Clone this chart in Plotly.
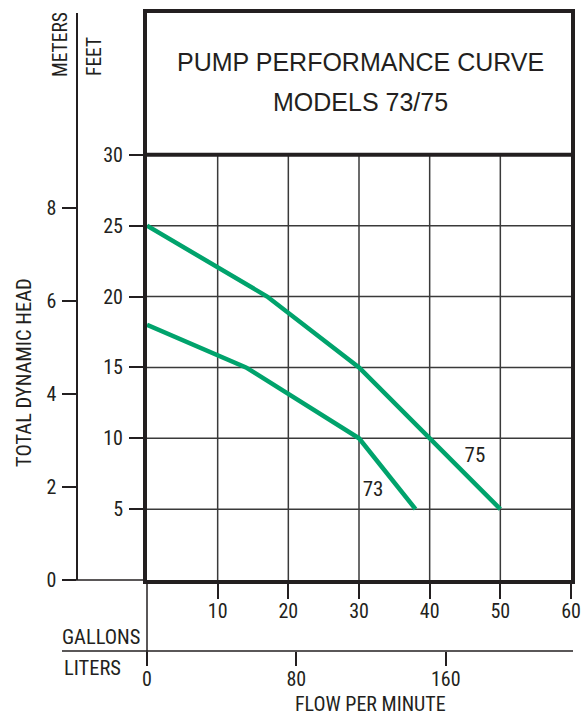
import plotly.graph_objects as go

W, H = 585, 715

NARROW = "Liberation Sans Narrow, Arial Narrow, Roboto Condensed, sans-serif"
WIDE = "Liberation Sans, Arial, Helvetica, sans-serif"
GREEN = "#00a36c"
INK = "#231f20"

# ---- data ----------------------------------------------------------------- #
model_73_gpm = [0, 14, 30, 38]
model_73_feet = [18, 15, 10, 5]
model_75_gpm = [0, 17, 30, 50]
model_75_feet = [25, 20, 15, 5]
curve_labels = ["73", "75"]
curve_label_gpm = [32.0, 46.4]
curve_label_feet = [6.3, 8.7]

gallon_ticks = [10, 20, 30, 40, 50, 60]
feet_ticks = [5, 10, 15, 20, 25, 30]
meter_ticks = [0, 2, 4, 6, 8]
liter_ticks = [0, 80, 160]

GPM_MAX = 60
FEET_CHART_TOP = 30   # top of the grid, title box sits above it
FEET_MAX = 40
M_PER_FT = 0.3048
L_PER_GAL = 3.785

# plot box in pixels (left, right, top, bottom)
PX_L, PX_R, PX_T, PX_B = 147, 571, 13, 580


def px(x):
    return x / W


def py(y):
    return 1 - y / H


fig = go.Figure()

# grid, only inside the chart part (below the title box)
gx, gy = [], []
for g in gallon_ticks[:-1]:
    gx += [g, g, None]
    gy += [0, FEET_CHART_TOP, None]
for f in feet_ticks[:-1]:
    gx += [0, GPM_MAX, None]
    gy += [f, f, None]
fig.add_trace(go.Scatter(x=gx, y=gy, mode="lines",
                         line=dict(color="#3a3a3a", width=1.5),
                         hoverinfo="skip", showlegend=False))

for xs, ys, name in ((model_73_gpm, model_73_feet, "73"),
                     (model_75_gpm, model_75_feet, "75")):
    fig.add_trace(go.Scatter(x=xs, y=ys, mode="lines", name=name,
                             line=dict(color=GREEN, width=4.5),
                             showlegend=False))

fig.add_trace(go.Scatter(x=curve_label_gpm, y=curve_label_feet, mode="text",
                         text=curve_labels, textposition="middle center",
                         textfont=dict(family=NARROW, size=21, color=INK),
                         hoverinfo="skip", showlegend=False))

# invisible traces so the secondary axes are drawn
fig.add_trace(go.Scatter(x=[0], y=[0], yaxis="y2", mode="markers",
                         marker=dict(opacity=0), hoverinfo="skip", showlegend=False))
fig.add_trace(go.Scatter(x=[0], y=[0], xaxis="x2", mode="markers",
                         marker=dict(opacity=0), hoverinfo="skip", showlegend=False))

tickfont = dict(family=NARROW, size=20, color=INK)

fig.update_layout(
    width=W, height=H,
    margin=dict(l=0, r=0, t=0, b=0, autoexpand=False),
    paper_bgcolor="white", plot_bgcolor="white",
    font=dict(family=NARROW, color=INK),
    xaxis=dict(
        domain=[px(PX_L), px(PX_R)], range=[0, GPM_MAX],
        tickvals=gallon_ticks, ticks="outside", ticklen=15, tickwidth=1.5,
        tickcolor=INK, tickfont=tickfont, showgrid=False, zeroline=False,
        showline=True, linewidth=4, linecolor=INK, mirror=True,
        anchor="y", automargin=False, ticklabelstandoff=-5,
        ticklabeloverflow="allow", fixedrange=True,
    ),
    yaxis=dict(
        domain=[py(PX_B), py(PX_T)], range=[0, FEET_MAX],
        tickvals=feet_ticks, ticks="outside", ticklen=14, tickwidth=1.5,
        tickcolor=INK, tickfont=tickfont, showgrid=False, zeroline=False,
        showline=True, linewidth=4, linecolor=INK, mirror=True,
        automargin=False, ticklabelstandoff=2, fixedrange=True,
    ),
    yaxis2=dict(
        overlaying="y", anchor="free", position=px(77), side="left",
        range=[0, FEET_MAX * M_PER_FT], tickvals=meter_ticks,
        ticks="outside", ticklen=14, tickwidth=1.5, tickcolor=INK,
        tickfont=tickfont, showline=True, linewidth=1.5, linecolor=INK,
        showgrid=False, zeroline=False, automargin=False,
        ticklabelstandoff=2, fixedrange=True,
    ),
    xaxis2=dict(
        overlaying="x", anchor="free", position=py(651), side="bottom",
        range=[0, GPM_MAX * L_PER_GAL], tickvals=liter_ticks,
        ticks="outside", ticklen=14, tickwidth=1.5, tickcolor=INK,
        tickfont=tickfont, showline=False, showgrid=False, zeroline=False,
        automargin=False, ticklabelstandoff=-4, fixedrange=True,
    ),
)

# title box divider, bottom rules
fig.add_shape(type="line", xref="x", yref="y", x0=0, x1=GPM_MAX,
              y0=FEET_CHART_TOP, y1=FEET_CHART_TOP, line=dict(color=INK, width=4))
fig.add_shape(type="line", xref="paper", yref="paper",
              x0=px(63), x1=px(PX_L), y0=py(PX_B), y1=py(PX_B),
              line=dict(color=INK, width=1.5))
fig.add_shape(type="line", xref="paper", yref="paper",
              x0=px(PX_L), x1=px(PX_L), y0=py(PX_B), y1=py(664),
              line=dict(color=INK, width=1.5))
fig.add_shape(type="line", xref="paper", yref="paper",
              x0=px(62), x1=px(573), y0=py(651), y1=py(651),
              line=dict(color=INK, width=1.5))

ann = [
    dict(text="PUMP PERFORMANCE CURVE", x=px(360), y=py(62), size=25,
         family=WIDE, textangle=0),
    dict(text="MODELS 73/75", x=px(360), y=py(102), size=25,
         family=WIDE, textangle=0),
    dict(text="METERS", x=px(61), y=py(45), size=19.5, family=NARROW, textangle=-90),
    dict(text="FEET", x=px(94), y=py(57), size=19.5, family=NARROW, textangle=-90),
    dict(text="TOTAL DYNAMIC HEAD", x=px(24), y=py(373), size=20.5,
         family=NARROW, textangle=-90),
    dict(text="GALLONS", x=px(101), y=py(637), size=20.5, family=NARROW, textangle=0),
    dict(text="LITERS", x=px(92), y=py(668), size=20.5, family=NARROW, textangle=0),
    dict(text="FLOW PER MINUTE", x=px(370), y=py(704), size=20,
         family=NARROW, textangle=0),
]
for a in ann:
    fig.add_annotation(text=a["text"], x=a["x"], y=a["y"], xref="paper", yref="paper",
                       showarrow=False, textangle=a["textangle"],
                       font=dict(family=a["family"], size=a["size"], color=INK),
                       xanchor="center", yanchor="middle")

# drop the default 8px body margin so the figure fills the window exactly
fig.write_html("out.html", config={"displayModeBar": False},
               post_script="document.body.style.margin = '0';")
